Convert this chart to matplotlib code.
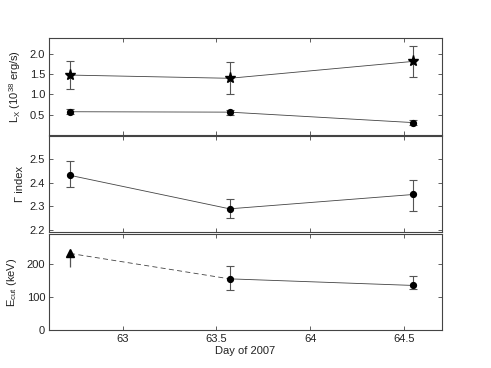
import matplotlib
matplotlib.use("Agg")
import matplotlib.pyplot as plt
import numpy as np

plt.rcParams['font.family'] = ['Liberation Sans', 'DejaVu Sans']
plt.rcParams['mathtext.fontset'] = 'custom'
plt.rcParams['mathtext.rm'] = 'Liberation Sans'
plt.rcParams['mathtext.it'] = 'Liberation Sans'

days = [62.72, 63.57, 64.55]

lx_star = [1.48, 1.40, 1.82]
lx_star_lo = [0.35, 0.40, 0.40]
lx_star_hi = [0.35, 0.40, 0.39]
lx_circ = [0.57, 0.56, 0.30]
lx_circ_err = [0.06, 0.06, 0.07]

gamma = [2.43, 2.29, 2.35]
gamma_lo = [0.05, 0.04, 0.07]
gamma_hi = [0.06, 0.04, 0.06]

ecut_limit = 232
ecut_limit_lo = 42
ecut = [155, 135]
ecut_lo = [35, 10]
ecut_hi = [39, 28]

fig = plt.figure(figsize=(4.91, 3.68), dpi=100)
W, H = 491, 368
L, R = 49.3, 441.7
panels = [(38, 134.7), (136.4, 232), (234.3, 330)]
axes = []
for top, bot in panels:
    ax = fig.add_axes([L / W, 1 - bot / H, (R - L) / W, (bot - top) / H])
    axes.append(ax)

ecol = '#555555'
lcol = '#444444'
kw = dict(ecolor=ecol, elinewidth=0.8, capsize=2.6, capthick=0.8)
fs = 8

ax = axes[0]
ax.plot(days, lx_star, '-', color=lcol, lw=0.6)
ax.errorbar(days, lx_star, yerr=[lx_star_lo, lx_star_hi], fmt='none', **kw)
ax.plot(days, lx_star, '*', color='k', ms=8, ls='none')
ax.plot(days, lx_circ, '-', color=lcol, lw=0.6)
ax.errorbar(days, lx_circ, yerr=lx_circ_err, fmt='none', **kw)
ax.plot(days, lx_circ, 'o', color='k', ms=4.2, ls='none')
ax.set_ylim(0, 2.4)
ax.set_yticks([0.5, 1.0, 1.5, 2.0])
ax.set_yticklabels(['0.5', '1.0', '1.5', '2.0'])
ax.set_ylabel(r'L$_\mathregular{X}$ (10$^\mathregular{38}$ erg/s)')

ax = axes[1]
ax.plot(days, gamma, '-', color=lcol, lw=0.6)
ax.errorbar(days, gamma, yerr=[gamma_lo, gamma_hi], fmt='none', **kw)
ax.plot(days, gamma, 'o', color='k', ms=4.2, ls='none')
ax.set_ylim(2.193, 2.593)
ax.set_yticks([2.2, 2.3, 2.4, 2.5])
ax.set_ylabel('Γ index')

ax = axes[2]
ax.plot([days[0], days[1]], [ecut_limit, ecut[0]], '--', color=lcol, lw=0.6, dashes=(6, 4))
ax.plot(days[1:], ecut, '-', color=lcol, lw=0.6)
ax.errorbar([days[0]], [ecut_limit], yerr=[[ecut_limit_lo], [0]], fmt='none',
            ecolor=ecol, elinewidth=0.9, capsize=0)
ax.errorbar(days[1:], ecut, yerr=[ecut_lo, ecut_hi], fmt='none', **kw)
ax.plot([days[0]], [ecut_limit], '^', color='k', ms=5.5)
ax.plot(days[1:], ecut, 'o', color='k', ms=4.2, ls='none')
ax.set_ylim(0, 290)
ax.set_yticks([0, 100, 200])
ax.set_ylabel(r'E$_\mathregular{cut}$ (keV)')
ax.set_xlabel('Day of 2007', fontsize=fs, labelpad=1, color='#222222')

for i, ax in enumerate(axes):
    ax.set_xlim(62.609, 64.701)
    ax.set_xticks([63, 63.5, 64, 64.5])
    ax.tick_params(direction='in', top=True, right=True, labelsize=fs, length=3, width=0.6,
                   colors='#444444', labelcolor='#222222', pad=3)
    if i < 2:
        ax.set_xticklabels([])
    else:
        ax.set_xticklabels(['63', '63.5', '64', '64.5'])
    ax.yaxis.label.set_size(fs)
    ax.yaxis.label.set_color('#222222')
    for s in ax.spines.values():
        s.set_linewidth(0.8)
        s.set_color('#444444')

label_x = [-0.066, -0.062, -0.078]
for ax, lxp in zip(axes, label_x):
    ax.yaxis.set_label_coords(lxp, 0.5)
fig.savefig('out.png', dpi=100)
